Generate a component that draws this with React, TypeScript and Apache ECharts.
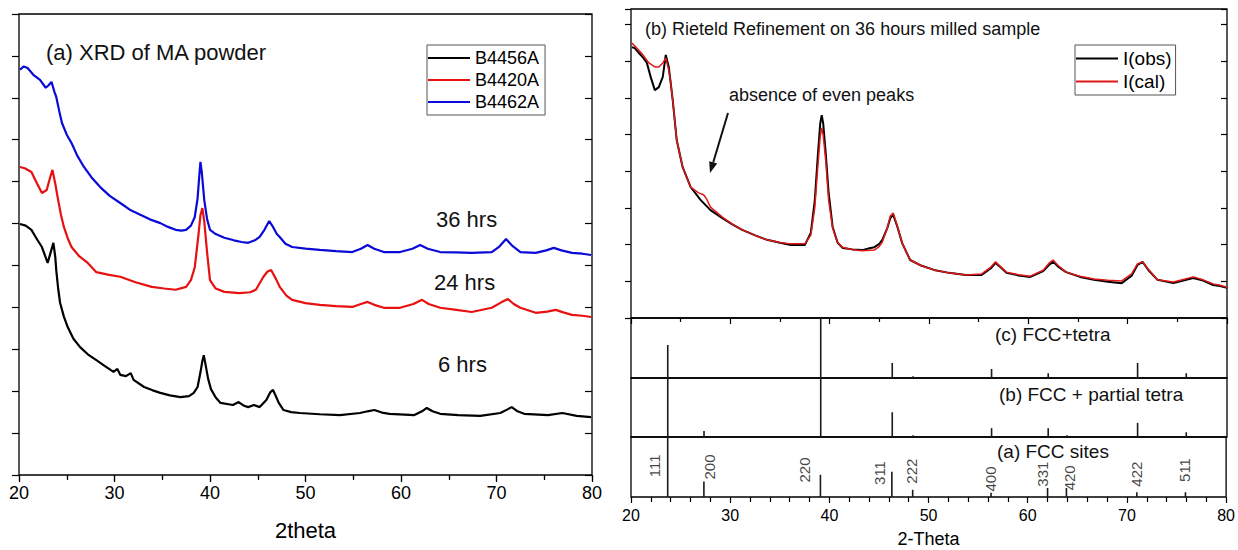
import React, { useEffect, useRef } from "react";
import * as echarts from "echarts";

const FONT = "'Liberation Sans', Arial, sans-serif";

// ---- Left panel: XRD of MA powder (2theta, intensity in arbitrary units) ----
const b4456A: [number, number][] = [
  [20.1,5.99],[20.7,5.95],[21.3,5.85],[21.9,5.62],[22.4,5.44],[23.0,5.06],[23.3,5.30],[23.6,5.54],[23.8,5.20],[23.9,4.89],
  [24.1,4.45],[24.3,4.11],[24.7,3.78],[25.1,3.53],[25.7,3.25],[26.4,3.05],[27.2,2.88],[28.1,2.74],[29.0,2.60],[29.9,2.46],
  [30.3,2.53],[30.6,2.39],[31.2,2.36],[31.7,2.43],[32.0,2.27],[33.1,2.10],[34.0,2.02],[34.8,1.96],[35.8,1.90],[36.9,1.86],
  [37.8,1.88],[38.3,1.96],[38.7,2.10],[39.0,2.45],[39.2,2.72],[39.35,2.86],[39.6,2.55],[39.8,2.30],[40.1,2.05],[40.6,1.85],
  [41.1,1.72],[42.4,1.67],[43.0,1.74],[43.5,1.66],[44.0,1.62],[44.6,1.67],[45.2,1.62],[45.9,1.79],[46.3,1.97],[46.6,2.03],
  [46.9,1.88],[47.2,1.72],[47.7,1.55],[48.5,1.50],[49.4,1.48],[51.5,1.45],[53.6,1.43],[55.7,1.48],[56.5,1.52],[57.2,1.55],
  [58.0,1.49],[58.8,1.46],[61.4,1.43],[62.2,1.52],[62.7,1.60],[63.3,1.52],[64.1,1.46],[66.0,1.43],[68.3,1.41],[70.4,1.48],
  [71.1,1.56],[71.6,1.62],[72.2,1.52],[72.9,1.46],[75.4,1.43],[76.9,1.48],[78.4,1.41],[79.9,1.38]
];
const b4420A: [number, number][] = [
  [20.1,7.35],[20.6,7.32],[21.3,7.23],[21.9,6.95],[22.4,6.73],[22.9,6.80],[23.2,7.05],[23.5,7.28],[23.8,6.95],[24.1,6.56],
  [24.4,6.20],[24.7,5.92],[25.1,5.65],[25.5,5.44],[26.3,5.22],[27.2,5.06],[28.1,4.84],[29.3,4.78],[30.6,4.73],[32.2,4.60],
  [33.9,4.49],[35.2,4.45],[36.4,4.42],[37.5,4.49],[38.0,4.65],[38.4,4.95],[38.8,5.75],[39.0,6.20],[39.2,6.37],[39.4,6.05],
  [39.7,5.30],[40.0,4.65],[40.6,4.45],[41.5,4.37],[43.1,4.34],[44.2,4.36],[44.8,4.42],[45.6,4.73],[46.0,4.85],[46.4,4.89],
  [46.9,4.68],[47.3,4.49],[48.0,4.28],[48.6,4.18],[50.0,4.10],[51.5,4.06],[53.2,4.03],[54.9,4.01],[55.8,4.08],[56.5,4.13],
  [57.2,4.06],[58.2,3.99],[59.9,3.99],[61.3,4.08],[62.2,4.18],[62.9,4.08],[64.1,3.99],[65.8,3.94],[67.4,3.89],[69.5,3.99],
  [70.5,4.12],[71.2,4.20],[71.8,4.08],[72.5,3.99],[74.1,3.87],[75.3,3.90],[76.2,3.94],[77.0,3.88],[77.9,3.82],[79.0,3.80],[79.9,3.77]
];
const b4462A: [number, number][] = [
  [20.1,9.67],[20.5,9.75],[20.9,9.71],[21.5,9.55],[22.2,9.43],[22.8,9.24],[23.1,9.30],[23.4,9.38],[23.7,9.15],[23.9,9.02],
  [24.2,8.70],[24.5,8.40],[25.0,8.12],[25.5,7.92],[26.1,7.62],[26.8,7.35],[27.6,7.10],[28.5,6.87],[29.5,6.66],[30.6,6.49],
  [31.6,6.33],[32.7,6.21],[33.7,6.10],[34.8,6.01],[35.6,5.92],[36.4,5.85],[37.0,5.83],[37.5,5.85],[38.0,5.95],[38.4,6.15],
  [38.7,6.60],[38.9,7.20],[39.0,7.47],[39.15,7.20],[39.4,6.56],[39.7,6.10],[40.0,5.85],[40.6,5.75],[41.5,5.66],[42.5,5.60],
  [43.3,5.56],[44.0,5.54],[44.7,5.60],[45.2,5.68],[45.7,5.85],[46.2,6.06],[46.6,5.92],[47.0,5.75],[47.3,5.68],[47.9,5.52],
  [48.6,5.44],[50.0,5.40],[51.5,5.37],[53.2,5.34],[54.9,5.32],[55.8,5.40],[56.5,5.49],[57.2,5.40],[58.2,5.32],[59.9,5.32],
  [61.2,5.40],[62.0,5.49],[62.8,5.40],[64.1,5.32],[65.8,5.31],[67.4,5.30],[69.5,5.32],[70.3,5.45],[71.0,5.63],[71.6,5.48],
  [72.5,5.32],[74.1,5.30],[75.2,5.36],[76.0,5.42],[76.8,5.36],[77.9,5.30],[79.0,5.28],[79.9,5.25]
];

// ---- Right panel: Rietveld refinement, 36 h milled sample ----
const iObs: [number, number][] = [
  [20.1,7.38],[20.4,7.35],[20.8,7.22],[21.2,7.10],[21.6,6.95],[22.0,6.55],[22.4,6.21],[22.8,6.29],[23.2,6.57],[23.5,7.17],
  [23.8,6.84],[24.0,6.40],[24.2,5.94],[24.6,4.85],[25.2,4.11],[26.0,3.57],[27.0,3.22],[28.0,2.94],[29.2,2.72],[30.2,2.55],
  [31.2,2.40],[32.5,2.25],[33.7,2.13],[35.0,2.05],[36.1,1.99],[37.5,1.99],[38.1,2.32],[38.5,3.20],[38.8,4.40],[39.05,5.30],
  [39.2,5.53],[39.35,5.30],[39.6,4.50],[39.9,3.40],[40.3,2.48],[40.8,2.05],[41.3,1.91],[42.3,1.87],[43.3,1.85],[44.0,1.90],
  [44.5,1.93],[45.0,2.02],[45.3,2.13],[45.8,2.45],[46.1,2.72],[46.4,2.81],[46.8,2.50],[47.3,2.04],[48.1,1.58],[49.2,1.43],
  [50.5,1.31],[52.0,1.23],[53.7,1.17],[55.3,1.17],[56.2,1.35],[56.7,1.50],[57.2,1.38],[57.8,1.23],[59.0,1.16],[60.2,1.12],
  [61.5,1.28],[62.1,1.45],[62.5,1.53],[63.0,1.40],[63.8,1.25],[65.2,1.12],[66.6,1.04],[68.0,0.99],[69.4,0.95],[70.4,1.15],
  [71.0,1.45],[71.5,1.53],[72.1,1.30],[73.0,1.04],[74.6,0.95],[75.6,1.02],[76.6,1.09],[77.6,1.02],[78.6,0.90],[79.3,0.87],[80,0.82]
];
const iCal: [number, number][] = [
  [20.1,7.49],[20.6,7.35],[21.2,7.17],[21.8,6.95],[22.4,6.84],[22.8,6.84],[23.2,6.95],[23.5,7.08],[23.8,6.76],[24.0,6.40],
  [24.2,5.94],[24.6,4.85],[25.2,4.11],[26.0,3.57],[26.8,3.41],[27.3,3.36],[27.6,3.25],[28.0,3.02],[29.2,2.75],[30.2,2.56],
  [31.2,2.40],[32.5,2.25],[33.7,2.13],[35.0,2.06],[36.1,2.02],[37.5,2.02],[38.1,2.26],[38.5,3.00],[38.8,4.10],[39.05,4.95],
  [39.2,5.18],[39.35,4.98],[39.6,4.30],[39.9,3.20],[40.3,2.45],[40.8,2.05],[41.3,1.93],[42.3,1.86],[43.3,1.83],[44.5,1.85],
  [45.0,1.95],[45.3,2.07],[45.8,2.45],[46.1,2.78],[46.4,2.86],[46.8,2.52],[47.3,2.04],[48.1,1.58],[49.2,1.43],[50.5,1.31],
  [52.0,1.23],[53.7,1.17],[55.3,1.20],[56.2,1.38],[56.7,1.53],[57.2,1.40],[57.8,1.25],[59.0,1.18],[60.2,1.14],[61.5,1.30],
  [62.1,1.50],[62.5,1.58],[63.0,1.43],[63.8,1.25],[65.2,1.14],[66.6,1.06],[68.0,1.03],[69.4,1.01],[70.4,1.20],[71.0,1.48],
  [71.5,1.53],[72.1,1.32],[73.0,1.04],[74.6,0.98],[75.6,1.05],[76.6,1.12],[77.6,1.04],[78.6,0.93],[79.3,0.89],[80,0.84]
];

// ---- Simulated stick patterns (relative intensity, 1 = panel height) ----
const hklLabels = ["111", "200", "220", "311", "222", "400", "331", "420", "422", "511"];
const hklTheta = [23.7, 27.35, 39.1, 46.3, 48.4, 56.3, 62.0, 63.9, 71.0, 75.9];
const sticksFccTetra = [0.55, 0, 1, 0.25, 0.03, 0.15, 0.08, 0, 0.25, 0.08];
const sticksPartialTetra = [1, 0.1, 1, 0.42, 0.03, 0.15, 0.15, 0.03, 0.24, 0.08];
const sticksFccSites = [1, 0.26, 0.37, 0.42, 0.12, 0.07, 0.15, 0.15, 0.08, 0.08];
const hklLabelTheta = [22.4, 27.95, 37.5, 45.1, 48.3, 56.2, 61.5, 64.2, 71.0, 75.8];
const hklLabelLevel = [0.52, 0.5, 0.45, 0.4, 0.43, 0.3, 0.38, 0.32, 0.38, 0.45];

const xTicks = { min: 20, max: 80, interval: 10 };

const black = "#000000";

function stickSeries(name: string, heights: number[], idx: number) {
  return {
    name,
    type: "custom",
    xAxisIndex: idx,
    yAxisIndex: idx,
    clip: true,
    silent: true,
    data: heights.map((h, i) => [hklTheta[i], h]).filter((d) => d[1] > 0),
    renderItem: (_p: any, api: any) => {
      const x = api.value(0);
      const h = Math.min(api.value(1), 1);
      const p0 = api.coord([x, 0]);
      const p1 = api.coord([x, h]);
      return {
        type: "line",
        shape: { x1: p0[0], y1: p0[1], x2: p1[0], y2: p1[1] },
        style: { stroke: "#1a1a1a", lineWidth: 1.6 },
      };
    },
  };
}

export default function App() {
  const ref = useRef<HTMLDivElement>(null);
  useEffect(() => {
    if (!ref.current) return;
    const chart = echarts.init(ref.current, undefined, { renderer: "svg" });
    const tick = (inside: boolean, length: number) => ({
      show: true,
      inside,
      length,
      lineStyle: { color: black, width: 1.2 },
    });
    const noLine = { show: false };
    const gridBase = { show: true, borderColor: black, borderWidth: 1.3, backgroundColor: "transparent", containLabel: false };
    const hiddenX = (gridIndex: number) => ({
      type: "value", gridIndex, ...xTicks, axisLine: noLine, axisTick: { show: false },
      axisLabel: { show: false }, splitLine: { show: false },
    });
    const hiddenY = (gridIndex: number) => ({
      type: "value", gridIndex, min: 0, max: 1, axisLine: noLine, axisTick: { show: false },
      axisLabel: { show: false }, splitLine: { show: false },
    });

    const option: any = {
      animation: false,
      backgroundColor: "#ffffff",
      textStyle: { fontFamily: FONT },
      grid: [
        { ...gridBase, left: 19, top: 14, width: 573, height: 461 },
        { ...gridBase, left: 631, top: 9, width: 596, height: 309 },
        { ...gridBase, left: 631, top: 318, width: 596, height: 60 },
        { ...gridBase, left: 631, top: 378, width: 596, height: 59 },
        { ...gridBase, left: 631, top: 437, width: 596, height: 60 },
      ],
      xAxis: [
        {
          type: "value", gridIndex: 0, position: "bottom", ...xTicks,
          axisLine: noLine, axisTick: tick(false, 6),
          minorTick: { show: true, splitNumber: 2, length: 5, lineStyle: { color: black, width: 1.2 } },
          axisLabel: { color: black, fontSize: 18, margin: 9, fontFamily: FONT },
          splitLine: { show: false },
          name: "2theta", nameLocation: "middle", nameGap: 44,
          nameTextStyle: { color: black, fontSize: 22, fontFamily: FONT },
        },
        {
          type: "value", gridIndex: 0, position: "top", ...xTicks,
          axisLine: noLine, axisTick: tick(true, 7),
          minorTick: { show: true, splitNumber: 2, length: 4, lineStyle: { color: black, width: 1.2 } },
          axisLabel: { show: false }, splitLine: { show: false },
        },
        hiddenX(1),
        {
          type: "value", gridIndex: 1, position: "top", ...xTicks,
          axisLine: noLine, axisTick: tick(true, 6),
          minorTick: { show: true, splitNumber: 2, length: 4, lineStyle: { color: black, width: 1.2 } },
          axisLabel: { show: false }, splitLine: { show: false },
        },
        hiddenX(2),
        hiddenX(3),
        {
          type: "value", gridIndex: 4, position: "bottom", ...xTicks,
          axisLine: noLine, axisTick: tick(false, 6),
          minorTick: { show: true, splitNumber: 5, length: 5, lineStyle: { color: black, width: 1.2 } },
          axisLabel: { color: black, fontSize: 16, margin: 10, fontFamily: FONT },
          splitLine: { show: false },
          name: "2-Theta", nameLocation: "middle", nameGap: 33,
          nameTextStyle: { color: black, fontSize: 18, fontFamily: FONT },
        },
      ],
      yAxis: [
        {
          type: "value", gridIndex: 0, position: "left", min: 0, max: 11, interval: 1,
          axisLine: noLine, axisTick: tick(false, 7), axisLabel: { show: false }, splitLine: { show: false },
        },
        {
          type: "value", gridIndex: 0, position: "right", min: 0, max: 11, interval: 1,
          axisLine: noLine, axisTick: tick(true, 7), axisLabel: { show: false }, splitLine: { show: false },
        },
        {
          type: "value", gridIndex: 1, position: "left", min: 0, max: 8.42, interval: 1,
          axisLine: noLine, axisTick: tick(false, 6), axisLabel: { show: false }, splitLine: { show: false },
        },
        {
          type: "value", gridIndex: 1, position: "right", min: 0, max: 8.42, interval: 1,
          axisLine: noLine, axisTick: tick(true, 6), axisLabel: { show: false }, splitLine: { show: false },
        },
        hiddenY(2),
        hiddenY(3),
        hiddenY(4),
      ],
      legend: [
        {
          data: ["B4456A", "B4420A", "B4462A"],
          orient: "vertical", left: 427, top: 45,
          padding: [4, 6, 4, 1], itemGap: 4, itemWidth: 42, itemHeight: 2, icon: "rect",
          borderColor: "#555", borderWidth: 1, backgroundColor: "#fff",
          textStyle: { color: black, fontSize: 18, fontFamily: FONT },
          selectedMode: false,
        },
        {
          data: ["I(obs)", "I(cal)"],
          orient: "vertical", left: 1075, top: 45,
          padding: [4, 4, 4, 1], itemGap: 4, itemWidth: 42, itemHeight: 2, icon: "rect",
          borderColor: "#555", borderWidth: 1, backgroundColor: "#fff",
          textStyle: { color: black, fontSize: 19, fontFamily: FONT },
          selectedMode: false,
        },
      ],
      series: [
        { name: "B4456A", type: "line", xAxisIndex: 0, yAxisIndex: 0, data: b4456A, symbol: "none", color: "#000000", lineStyle: { width: 2.2 } },
        { name: "B4420A", type: "line", xAxisIndex: 0, yAxisIndex: 0, data: b4420A, symbol: "none", color: "#e81010", lineStyle: { width: 2.2 } },
        { name: "B4462A", type: "line", xAxisIndex: 0, yAxisIndex: 0, data: b4462A, symbol: "none", color: "#0a0ad8", lineStyle: { width: 2.2 } },
        { name: "I(obs)", type: "line", xAxisIndex: 2, yAxisIndex: 2, data: iObs, symbol: "none", color: "#000000", lineStyle: { width: 2 } },
        { name: "I(cal)", type: "line", xAxisIndex: 2, yAxisIndex: 2, data: iCal, symbol: "none", color: "#e01818", lineStyle: { width: 1.5 } },
        stickSeries("(c) FCC+tetra", sticksFccTetra, 4),
        stickSeries("(b) FCC + partial tetra", sticksPartialTetra, 5),
        stickSeries("(a) FCC sites", sticksFccSites, 6),
        {
          name: "hkl",
          type: "scatter",
          xAxisIndex: 6,
          yAxisIndex: 6,
          symbolSize: 0,
          silent: true,
          data: hklLabels.map((t, i) => ({ name: t, value: [hklLabelTheta[i], hklLabelLevel[i]] })),
          label: {
            show: true, position: "inside", rotate: 90, formatter: "{b}",
            color: "#111", fontSize: 15, fontFamily: FONT,
          },
        },
      ],
      graphic: [
        { type: "text", left: 46, top: 41, style: { text: "(a) XRD of MA powder", font: `22px ${FONT}`, fill: "#111" } },
        { type: "text", left: 436, top: 208, style: { text: "36 hrs", font: `22px ${FONT}`, fill: "#111" } },
        { type: "text", left: 434, top: 271, style: { text: "24 hrs", font: `22px ${FONT}`, fill: "#111" } },
        { type: "text", left: 438, top: 353, style: { text: "6 hrs", font: `22px ${FONT}`, fill: "#111" } },
        { type: "text", left: 645, top: 20, style: { text: "(b) Rieteld Refinement on 36 hours milled sample", font: `18px ${FONT}`, fill: "#111" } },
        { type: "text", left: 729, top: 86, style: { text: "absence of even peaks", font: `18px ${FONT}`, fill: "#111" } },
        { type: "line", shape: { x1: 728, y1: 113, x2: 713.2, y2: 162.5 }, style: { stroke: "#111", lineWidth: 2 } },
        { type: "polygon", shape: { points: [[710, 173], [717.2, 163.6], [709.2, 161.2]] }, style: { fill: "#111" } },
        { type: "text", left: 995, top: 325, style: { text: "(c) FCC+tetra", font: `19px ${FONT}`, fill: "#111" } },
        { type: "text", left: 999, top: 385, style: { text: "(b) FCC + partial tetra", font: `19px ${FONT}`, fill: "#111" } },
        { type: "text", left: 997, top: 442, style: { text: "(a) FCC sites", font: `19px ${FONT}`, fill: "#111" } },
      ],
    };
    chart.setOption(option);
    return () => chart.dispose();
  }, []);
  return (
    <div
      ref={ref}
      style={{ position: "fixed", left: 0, top: 0, width: 1238, height: 550, background: "#fff" }}
    />
  );
}
